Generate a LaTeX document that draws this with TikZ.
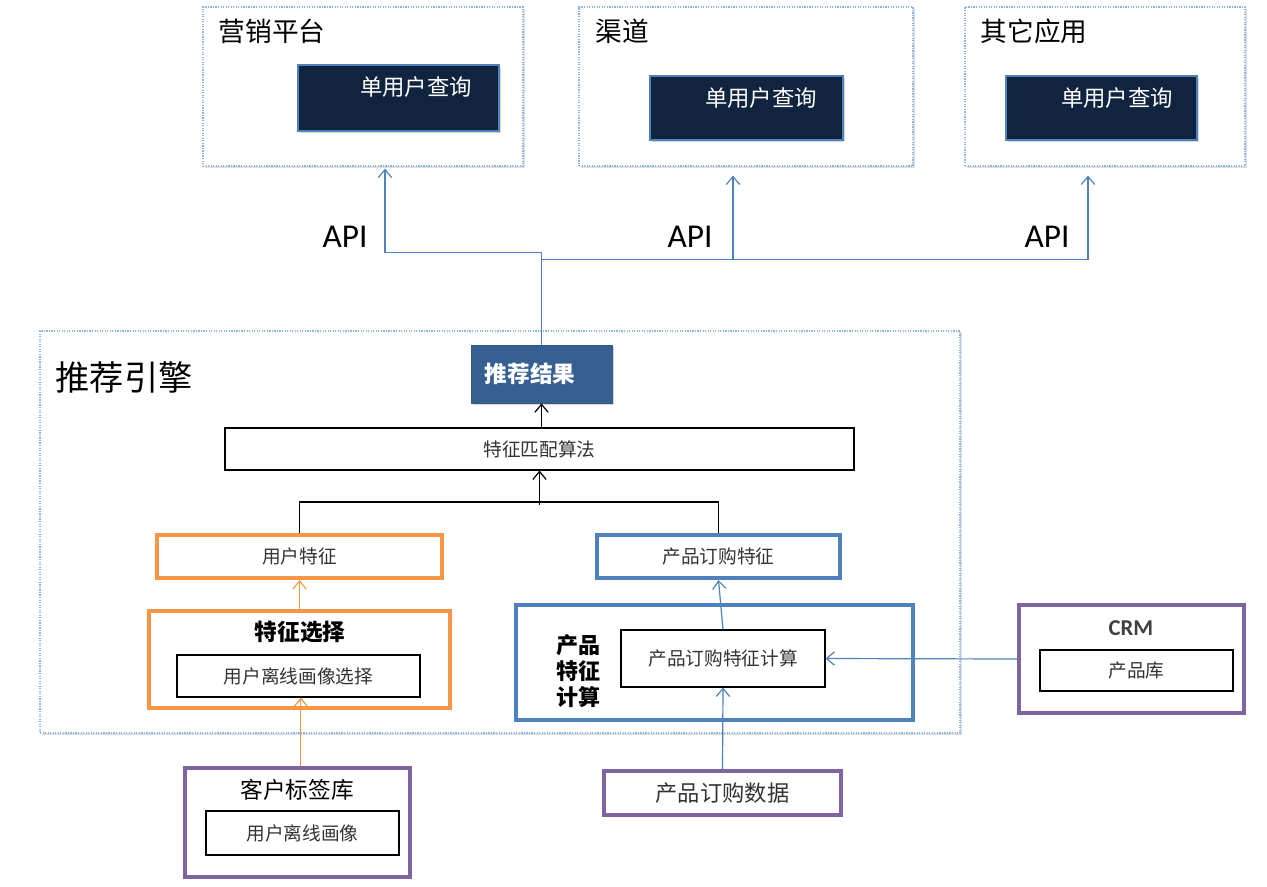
\documentclass[tikz,border=0pt]{standalone}
\usepackage{fontspec}
\setmainfont{Noto Sans CJK SC}
\newfontfamily\latf{Carlito}
\usetikzlibrary{fit,arrows.meta,shadows}
\definecolor{orng}{HTML}{F79646}
\definecolor{blu}{HTML}{4F81BD}
\definecolor{purp}{HTML}{8064A2}
\definecolor{navy}{HTML}{10243F}
\definecolor{resb}{HTML}{376092}
\definecolor{dotb}{HTML}{8EB4E3}
\definecolor{txtg}{HTML}{333333}
\begin{document}
\begin{tikzpicture}[x=0.75pt,y=-0.75pt,
  box/.style={inner sep=0pt, fit={#1}},
  outerbox/.style={draw=dotb, densely dotted, line width=0.9pt, fill=white,
    drop shadow={opacity=0.25, shadow xshift=1.2pt, shadow yshift=-1.2pt}},
  navybox/.style={draw=blu, line width=0.8pt, fill=navy,
    drop shadow={opacity=0.3, shadow xshift=1.2pt, shadow yshift=-1.2pt}},
  thinbox/.style={draw=black, line width=0.8pt, fill=white},
  obox/.style={draw=orng, line width=3pt, fill=white},
  bbox/.style={draw=blu, line width=3pt, fill=white},
  pbox/.style={draw=purp, line width=3pt, fill=white},
  small/.style={font=\fontsize{14pt}{17pt}\selectfont, text=txtg},
  title/.style={font=\fontsize{20pt}{24pt}\selectfont, anchor=west},
  apil/.style={font=\latf\fontsize{25pt}{30pt}\selectfont},
  tip/.style={-{Straight Barb[length=6pt,width=10pt]}},
  barrow/.style={tip, draw=blu, line width=0.9pt},
  oarrow/.style={tip, draw=orng, line width=0.9pt},
  karrow/.style={tip, draw=black, line width=0.9pt},
]
\useasboundingbox (0,0) rectangle (1267,886);

% top boxes
\node[box={(203,7) (523,166)}, outerbox] (m1) {};
\node[box={(579,7) (913,166)}, outerbox] (m2) {};
\node[box={(965,7) (1245,166)}, outerbox] (m3) {};
\node[title] (m1t) at (214,31) {营销平台};
\node[title] (m2t) at (591,31) {渠道};
\node[title] (m3t) at (976,31) {其它应用};
\node[box={(298,65) (499,131)}, navybox] (q1) {};
\node[box={(650,76) (843,140)}, navybox] (q2) {};
\node[box={(1006,76) (1197,140)}, navybox] (q3) {};
\foreach \n/\x/\y in {q1t/416/87, q2t/761/98, q3t/1117/98}
  \node[text=white, font=\fontsize{16.8pt}{20pt}\selectfont] (\n) at (\x,\y) {单用户查询};

% engine
\node[box={(40,331) (960,733)}, outerbox] (eng) {};
\node[anchor=west, font=\fontsize{25.7pt}{30pt}\selectfont] (engt) at (51,377) {推荐引擎};
\node[box={(471,345) (612,403)}, draw=blu!70!black, line width=0.6pt, fill=resb,
  drop shadow={opacity=0.3, shadow xshift=1.2pt, shadow yshift=-1.2pt}] (res) {};
\node[text=white, font=\bfseries\fontsize{17pt}{20pt}\selectfont] (rest) at (530,374) {推荐结果};
\node[box={(225,428) (854,470)}, thinbox] (alg) {};
\node[small] (algt) at (alg.center) {特征匹配算法};
\node[box={(157,535) (442,578)}, obox] (uf) {};
\node[small] (uft) at (uf.center) {用户特征};
\node[box={(597,535) (840,578)}, bbox] (pf) {};
\node[small] (pft) at (pf.center) {产品订购特征};
\node[box={(149,611) (450,708)}, obox] (fs) {};
\node[font=\bfseries\fontsize{17pt}{20pt}\selectfont] (fst) at (300,632) {特征选择};
\node[box={(177,655) (420,697)}, thinbox] (fsi) {};
\node[small] (fsit) at (fsi.center) {用户离线画像选择};
\node[box={(516,605) (913,720)}, bbox] (pc) {};
\node[font=\bfseries\fontsize{16.5pt}{19.5pt}\selectfont, align=left] (pct) at (578,671) {产品\\特征\\计算};
\node[box={(621,630) (825,687)}, thinbox] (pci) {};
\node[small] (pcit) at (pci.center) {产品订购特征计算};

% sources
\node[box={(1019,605) (1244,713)}, pbox] (crm) {};
\node[font=\latf\bfseries\fontsize{17pt}{20pt}\selectfont, text=black!75] (crmt) at (1131,628) {CRM};
\node[box={(1040,650) (1233,691)}, thinbox] (crmi) {};
\node[small] (crmit) at (crmi.center) {产品库};
\node[box={(604,771) (841,815)}, pbox] (pd) {};
\node[font=\fontsize{16.7pt}{20pt}\selectfont, text=txtg] (pdt) at (pd.center) {产品订购数据};
\node[box={(185,768) (410,877)}, pbox] (tag) {};
\node[font=\fontsize{17pt}{20pt}\selectfont] (tagt) at (297,790) {客户标签库};
\node[box={(206,811) (399,855)}, thinbox] (tagi) {};
\node[small] (tagit) at (tagi.center) {用户离线画像};

% API labels
\node[apil] (api1) at (345,237) {API};
\node[apil] (api2) at (690,237) {API};
\node[apil] (api3) at (1047,237) {API};

% connectors
\draw[barrow] (res.north) -- ++(0,-92) -| ([xshift=16.5pt,yshift=-1.5pt]m1.south);
\draw[barrow] (res.north) ++(0,-85) -| ([xshift=-9.75pt,yshift=-6.75pt]m2.south);
\draw[barrow] (res.north) ++(0,-85) -| ([xshift=-12.75pt,yshift=-6.75pt]m3.south);
\draw[karrow] (alg.north -| res.south) -- (res.south);
\draw[line width=0.9pt] (uf.north) -- ++(0,-31) -| (pf.north);
\draw[karrow] (alg.south) ++(0,34) -- (alg.south);
\draw[oarrow] (fs.north) -- (uf.south);
\draw[oarrow] ([xshift=2.5pt]tag.north) -- ([xshift=2.5pt]tag.north |- fsi.south);
\draw[barrow] (pci.north) -- (pf.south);
\draw[barrow] (pd.north) -- (pci.south);
\draw[barrow] (crm.west) -- (pci.east);
\end{tikzpicture}
\end{document}
